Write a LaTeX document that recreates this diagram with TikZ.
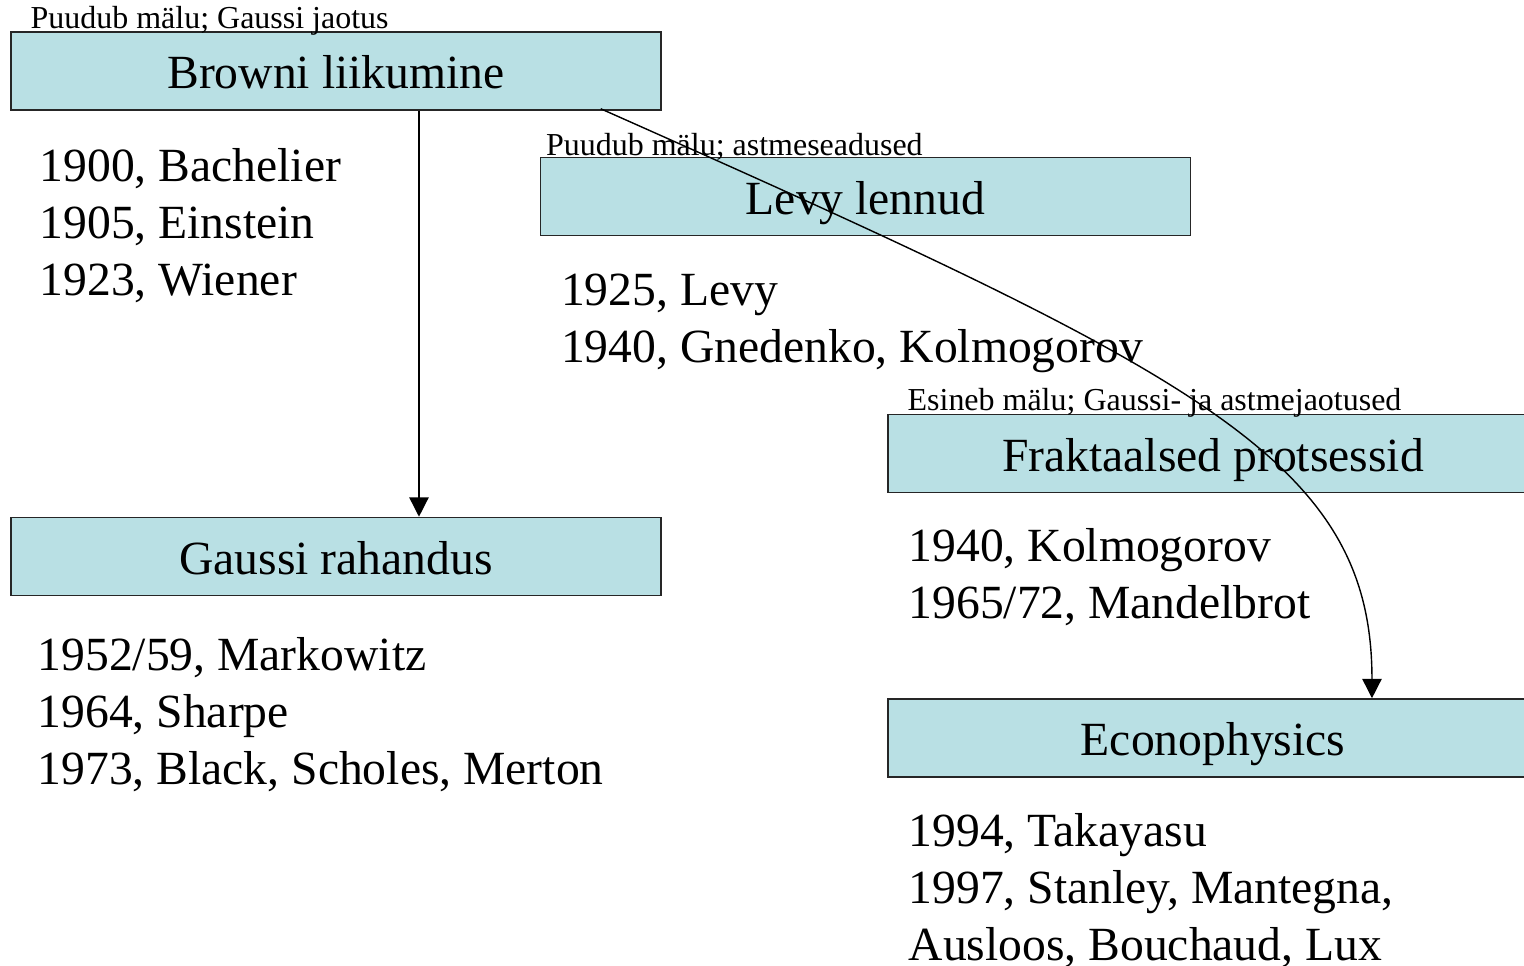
\documentclass[tikz,border=0pt]{standalone}
\usepackage{fontspec}
\setmainfont{Liberation Serif}
\usetikzlibrary{arrows.meta,positioning,calc}
\definecolor{boxfill}{RGB}{185,224,228}

\begin{document}
\begin{tikzpicture}[x=0.02cm, y=-0.02cm,
    theory/.style={rectangle, draw=black!85, line width=0.9pt, fill=boxfill, minimum width=13cm, minimum height=1.56cm, inner sep=0pt, text height=20pt, text depth=0pt, font=\fontsize{27.1}{32.4}\selectfont},
    note/.style={inner sep=0pt, anchor=south west, font=\fontsize{18.2}{21.8}\selectfont},
    years/.style={inner sep=0pt, anchor=base west, align=left, font=\fontsize{27.1}{32.4}\selectfont},
    arrow/.style={-{Triangle[length=11pt, width=11pt]}, line width=0.8pt}
]
\useasboundingbox (0,0) rectangle (1524,966);

% Theories
\node[theory] (browni) at (336,71) {Browni liikumine};
\node[theory] (levy) at (865.5,196.5) {Levy lennud};
\node[theory] (frakt) at (1213,453.5) {Fraktaalsed protsessid};
\node[theory] (gaussi) at (336,556.5) {Gaussi rahandus};
\node[theory] (econ) at (1213,738) {Econophysics};

% Notes
\node[note] (browninote) at ([xshift=0.4cm, yshift=-0.08cm]browni.north west) {Puudub mälu; Gaussi jaotus};
\node[note] (levynote) at ([xshift=0.12cm, yshift=-0.08cm]levy.north west) {Puudub mälu; astmeseadused};
\node[note] (fraktnote) at ([xshift=0.4cm, yshift=-0.08cm]frakt.north west) {Esineb mälu; Gaussi- ja astmejaotused};

% Years (base = last line)
\node[years] (browniyears) at ([xshift=0.58cm, yshift=-3.7cm]browni.south west) {1900, Bachelier\\1905, Einstein\\1923, Wiener};
\node[years] (levyyears) at ([xshift=0.42cm, yshift=-2.52cm]levy.south west) {1925, Levy\\1940, Gnedenko, Kolmogorov};
\node[years] (fraktyears) at ([xshift=0.42cm, yshift=-2.5cm]frakt.south west) {1940, Kolmogorov\\1965/72, Mandelbrot};
\node[years] (gaussiyears) at ([xshift=0.54cm, yshift=-3.76cm]gaussi.south west) {1952/59, Markowitz\\1964, Sharpe\\1973, Black, Scholes, Merton};
\node[years] (econyears) at ([xshift=0.42cm, yshift=-3.66cm]econ.south west) {1994, Takayasu\\1997, Stanley, Mantegna,\\Ausloos, Bouchaud, Lux};

% Arrows
\draw[arrow] ([xshift=1.66cm]browni.south) -- ([xshift=1.66cm]gaussi.north);
\draw[arrow] ([xshift=-1.22cm, yshift=0.04cm]browni.south east) .. controls (1200,375) and (1372,460) .. ([xshift=3.18cm]econ.north);

\end{tikzpicture}
\end{document}
